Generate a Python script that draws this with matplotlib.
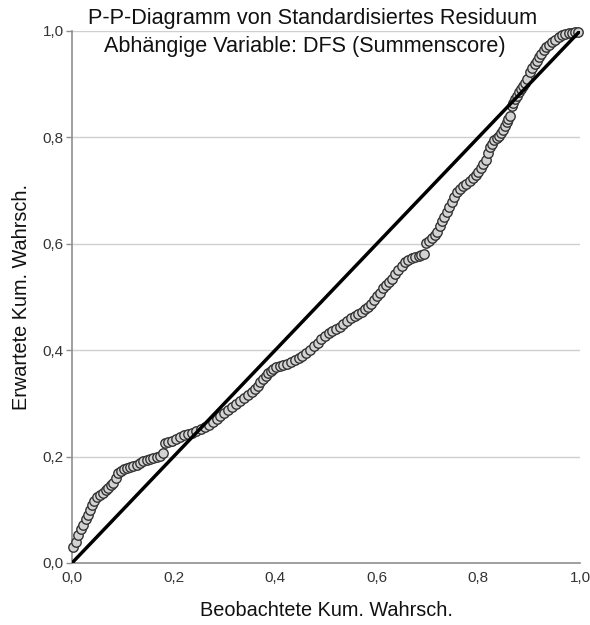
import matplotlib
matplotlib.use("Agg")
import matplotlib.pyplot as plt

title_line1 = "P-P-Diagramm von Standardisiertes Residuum"
title_line2 = "Abhängige Variable: DFS (Summenscore)"
x_label = "Beobachtete Kum. Wahrsch."
y_label = "Erwartete Kum. Wahrsch."
tick_values = [0.0, 0.2, 0.4, 0.6, 0.8, 1.0]
tick_labels = ["0,0", "0,2", "0,4", "0,6", "0,8", "1,0"]

observed = [
    0.002, 0.007, 0.012, 0.017, 0.022, 0.027, 0.031, 0.035, 0.039, 0.044,
    0.049, 0.055, 0.061, 0.066, 0.071, 0.076, 0.081, 0.086, 0.091, 0.097,
    0.102, 0.108, 0.114, 0.121, 0.128, 0.134, 0.140, 0.147, 0.154, 0.160,
    0.167, 0.173, 0.179, 0.183, 0.190, 0.197, 0.205, 0.213, 0.220, 0.228,
    0.236, 0.244, 0.253, 0.262, 0.270, 0.278, 0.285, 0.291, 0.299, 0.307,
    0.315, 0.323, 0.331, 0.339, 0.346, 0.354, 0.360, 0.366, 0.371, 0.376,
    0.381, 0.386, 0.391, 0.396, 0.402, 0.409, 0.416, 0.423, 0.431, 0.439,
    0.446, 0.453, 0.461, 0.469, 0.476, 0.484, 0.491, 0.498, 0.505, 0.512,
    0.520, 0.528, 0.534, 0.541, 0.549, 0.557, 0.564, 0.571, 0.577, 0.583,
    0.589, 0.594, 0.600, 0.606, 0.612, 0.618, 0.624, 0.630, 0.636, 0.642,
    0.649, 0.656, 0.662, 0.669, 0.676, 0.683, 0.688, 0.693, 0.697, 0.703,
    0.709, 0.714, 0.719, 0.724, 0.728, 0.733, 0.738, 0.743, 0.748, 0.753,
    0.758, 0.764, 0.770, 0.776, 0.783, 0.789, 0.795, 0.800, 0.805, 0.810,
    0.815, 0.819, 0.823, 0.827, 0.831, 0.836, 0.841, 0.845, 0.848, 0.852,
    0.856, 0.859, 0.862, 0.866, 0.869, 0.872, 0.876, 0.880, 0.884, 0.888,
    0.892, 0.896, 0.902, 0.906, 0.911, 0.915, 0.919, 0.924, 0.929, 0.934,
    0.939, 0.945, 0.951, 0.958, 0.965, 0.971, 0.978, 0.984, 0.990, 0.996,
]
expected = [
    0.030, 0.040, 0.052, 0.063, 0.072, 0.082, 0.090, 0.100, 0.109, 0.117,
    0.124, 0.128, 0.132, 0.137, 0.141, 0.146, 0.150, 0.160, 0.169, 0.173,
    0.177, 0.179, 0.180, 0.182, 0.184, 0.188, 0.192, 0.194, 0.195, 0.197,
    0.199, 0.202, 0.207, 0.226, 0.228, 0.229, 0.233, 0.237, 0.240, 0.242,
    0.245, 0.248, 0.252, 0.256, 0.260, 0.265, 0.270, 0.276, 0.282, 0.288,
    0.293, 0.299, 0.305, 0.310, 0.316, 0.321, 0.327, 0.333, 0.340, 0.346,
    0.352, 0.357, 0.361, 0.365, 0.368, 0.370, 0.372, 0.374, 0.378, 0.382,
    0.386, 0.389, 0.394, 0.400, 0.407, 0.414, 0.421, 0.427, 0.432, 0.436,
    0.440, 0.444, 0.450, 0.455, 0.460, 0.464, 0.468, 0.472, 0.477, 0.481,
    0.487, 0.494, 0.501, 0.508, 0.516, 0.523, 0.528, 0.534, 0.543, 0.551,
    0.559, 0.566, 0.570, 0.573, 0.575, 0.577, 0.579, 0.581, 0.602, 0.606,
    0.611, 0.616, 0.622, 0.633, 0.643, 0.651, 0.660, 0.670, 0.679, 0.688,
    0.697, 0.703, 0.709, 0.713, 0.718, 0.723, 0.729, 0.735, 0.742, 0.750,
    0.758, 0.770, 0.782, 0.788, 0.795, 0.799, 0.803, 0.808, 0.814, 0.821,
    0.829, 0.834, 0.840, 0.859, 0.865, 0.872, 0.878, 0.885, 0.891, 0.897,
    0.903, 0.910, 0.923, 0.930, 0.938, 0.944, 0.951, 0.957, 0.964, 0.969,
    0.974, 0.979, 0.983, 0.988, 0.992, 0.994, 0.996, 0.997, 0.998, 0.999,
]
diagonal = [0.0, 1.0]

plt.rcParams['font.family'] = ['Liberation Sans', 'DejaVu Sans']

fig = plt.figure(figsize=(5.9, 6.25), dpi=100)
ax = fig.add_axes([0.122, 0.0992, 0.861, 0.8512])

ax.set_xlim(0, 1)
ax.set_ylim(0, 1)

ax.scatter(observed, expected, s=46, facecolor='#d2d2d2', edgecolor='#333333',
           linewidth=1.0, zorder=3, clip_on=False)
ax.plot(diagonal, diagonal, color='black', linewidth=2.5, zorder=4,
        solid_capstyle='butt')

for v in tick_values[1:]:
    ax.axhline(v, color='#cfcfcf', linewidth=1.0, zorder=1)

for side in ['top', 'right']:
    ax.spines[side].set_visible(False)
for side in ['left', 'bottom']:
    ax.spines[side].set_color('#8f8f8f')
    ax.spines[side].set_linewidth(1.2)

ax.set_xticks(tick_values)
ax.set_xticklabels(tick_labels, fontsize=11)
ax.set_yticks(tick_values)
ax.set_yticklabels(tick_labels, fontsize=11)
ax.tick_params(axis='x', length=0, pad=6, colors='#333333')
ax.tick_params(axis='y', length=4, width=1, color='#8f8f8f', pad=2,
               labelcolor='#333333')

ax.set_xlabel(x_label, fontsize=14.3, labelpad=11, color='#111111')
ax.set_ylabel(y_label, fontsize=14.3, labelpad=8, color='#111111')

fig.text(0.530, 0.971, title_line1, ha='center', va='center', fontsize=15.6,
         color='#111111')
fig.text(0.517, 0.925, title_line2, ha='center', va='center', fontsize=15.6,
         color='#111111')

fig.savefig("out.png", dpi=100, facecolor='white')
